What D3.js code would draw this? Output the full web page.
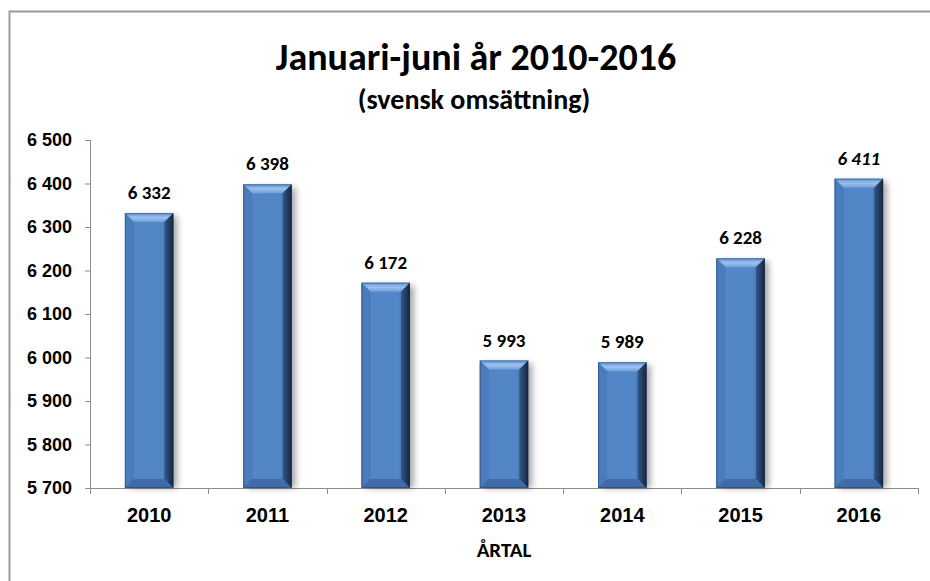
<!DOCTYPE html>
<html>
<head>
<meta charset="utf-8">
<script src="https://cdn.jsdelivr.net/npm/d3@7"></script>
<style>
  body { margin: 0; background: #fff; }
  svg { display: block; font-family: Carlito, Calibri, Lato, "Open Sans", sans-serif; }
  .axis path, .axis line { stroke: #8c8c8c; }
  .axis text { font-weight: bold; fill: #000; }
  .y.axis text { font-size: 18px; }
  .x.axis text { font-size: 20px; }
</style>
</head>
<body>
<script>
var years = ["2010", "2011", "2012", "2013", "2014", "2015", "2016"];
var values = [6332, 6398, 6172, 5993, 5989, 6228, 6411];
var italicYears = ["2016"];
var yTicks = [5700, 5800, 5900, 6000, 6100, 6200, 6300, 6400, 6500];

var W = 930, H = 581;
var margin = { top: 140, bottom: 93, left: 90, right: 12 };
var width = W - margin.left - margin.right;
var height = H - margin.top - margin.bottom;

var svg = d3.select("body").append("svg")
    .attr("width", W)
    .attr("height", H);

var defs = svg.append("defs");

var body = defs.append("linearGradient").attr("id", "barBody")
    .attr("x1", "0").attr("x2", "1").attr("y1", "0").attr("y2", "0");
body.append("stop").attr("offset", "0").attr("stop-color", "#4474b1");
body.append("stop").attr("offset", "0.2").attr("stop-color", "#5486c7");
body.append("stop").attr("offset", "0.75").attr("stop-color", "#5386c7");
body.append("stop").attr("offset", "1").attr("stop-color", "#3d6aa5");

var topBev = defs.append("linearGradient").attr("id", "topBev")
    .attr("x1", "0").attr("x2", "0").attr("y1", "0").attr("y2", "1");
topBev.append("stop").attr("offset", "0").attr("stop-color", "#6292cf");
topBev.append("stop").attr("offset", "0.5").attr("stop-color", "#9cc0ec");
topBev.append("stop").attr("offset", "1").attr("stop-color", "#6f9fda");

var rightBev = defs.append("linearGradient").attr("id", "rightBev")
    .attr("x1", "0").attr("x2", "1").attr("y1", "0").attr("y2", "0");
rightBev.append("stop").attr("offset", "0").attr("stop-color", "#33578a");
rightBev.append("stop").attr("offset", "1").attr("stop-color", "#15263d");

var shadow = defs.append("filter").attr("id", "shadow")
    .attr("x", "-50%").attr("y", "-10%").attr("width", "200%").attr("height", "120%");
shadow.append("feGaussianBlur").attr("stdDeviation", 3);

// chart border
svg.append("rect")
    .attr("x", 9.5).attr("y", 11.5)
    .attr("width", W).attr("height", H)
    .attr("fill", "none")
    .attr("stroke", "#9a9a9a")
    .attr("stroke-width", 2);

svg.append("text")
    .attr("x", 476).attr("y", 70)
    .attr("text-anchor", "middle")
    .style("font-size", "38px").style("font-weight", "bold")
    .text("Januari-juni år 2010-2016");

svg.append("text")
    .attr("x", 474).attr("y", 109)
    .attr("text-anchor", "middle")
    .style("font-size", "28px").style("font-weight", "bold")
    .text("(svensk omsättning)");

var g = svg.append("g")
    .attr("transform", "translate(" + margin.left + "," + margin.top + ")");

var x = d3.scaleBand()
    .domain(years)
    .range([0, width])
    .paddingInner(0.59)
    .paddingOuter(0.295);

var y = d3.scaleLinear()
    .domain([5700, 6500])
    .range([height, 0]);

var fmt = d3.formatLocale({ decimal: ",", thousands: " ", grouping: [3], currency: ["", " kr"] }).format(",d");

var yAxis = d3.axisLeft(y)
    .tickValues(yTicks)
    .tickFormat(fmt)
    .tickSize(5)
    .tickPadding(13);

g.append("g")
    .attr("class", "y axis")
    .call(yAxis)
    .select(".domain").attr("d", "M0.5," + height + "V0");

// x axis: labels only, boundary ticks drawn separately
var xAxis = d3.axisBottom(x).tickSize(0).tickPadding(20);
var xg = g.append("g")
    .attr("class", "x axis")
    .attr("transform", "translate(0," + height + ")")
    .call(xAxis);
xg.select(".domain").attr("d", "M0," + 0.5 + "H" + width);

var bounds = years.map(function (d) { return x(d) - x.step() * x.paddingInner() / 2; });
bounds[0] = 0;
bounds.push(width);
xg.selectAll(".bound")
    .data(bounds)
    .enter()
    .append("line")
    .attr("class", "bound")
    .attr("x1", function (d) { return Math.round(d) + 0.5; })
    .attr("x2", function (d) { return Math.round(d) + 0.5; })
    .attr("y1", 0)
    .attr("y2", 6)
    .attr("stroke", "#8c8c8c");

g.append("text")
    .attr("x", width / 2)
    .attr("y", height + 69)
    .attr("text-anchor", "middle")
    .style("font-size", "21px").style("font-weight", "bold")
    .text("ÅRTAL");

var bw = x.bandwidth();
var bev = 9;

var bars = g.selectAll("g.bar")
    .data(years)
    .enter()
    .append("g")
    .attr("class", "bar");

bars.append("rect")
    .attr("x", function (d) { return x(d) + 4; })
    .attr("y", function (d, i) { return y(values[i]) + 3; })
    .attr("width", bw)
    .attr("height", function (d, i) { return height - y(values[i]) - 3; })
    .attr("fill", "rgba(0,0,0,0.35)")
    .attr("filter", "url(#shadow)");

bars.append("rect")
    .attr("x", function (d) { return x(d); })
    .attr("y", function (d, i) { return y(values[i]); })
    .attr("width", bw)
    .attr("height", function (d, i) { return height - y(values[i]); })
    .attr("fill", "url(#barBody)");

// top bevel
bars.append("path")
    .attr("fill", "url(#topBev)")
    .attr("d", function (d, i) {
        var x0 = x(d), y0 = y(values[i]);
        return "M" + x0 + "," + y0 + "H" + (x0 + bw) + "L" + (x0 + bw - bev) + "," + (y0 + bev) + "H" + (x0 + bev) + "Z";
    });

// right bevel
bars.append("path")
    .attr("fill", "url(#rightBev)")
    .attr("d", function (d, i) {
        var x0 = x(d), y0 = y(values[i]);
        return "M" + (x0 + bw) + "," + y0 + "V" + height + "L" + (x0 + bw - bev) + "," + (height - bev) + "V" + (y0 + bev) + "Z";
    });

// left bevel
bars.append("path")
    .attr("fill", "#4a7bbb")
    .attr("d", function (d, i) {
        var x0 = x(d), y0 = y(values[i]);
        return "M" + x0 + "," + y0 + "V" + height + "L" + (x0 + bev) + "," + (height - bev) + "V" + (y0 + bev) + "Z";
    });

// bottom bevel
bars.append("path")
    .attr("fill", "#3f6ca8")
    .attr("d", function (d, i) {
        var x0 = x(d);
        return "M" + x0 + "," + height + "H" + (x0 + bw) + "L" + (x0 + bw - bev) + "," + (height - bev) + "H" + (x0 + bev) + "Z";
    });

bars.append("rect")
    .attr("x", function (d) { return x(d) + 0.5; })
    .attr("y", function (d, i) { return y(values[i]) + 0.5; })
    .attr("width", bw - 1)
    .attr("height", function (d, i) { return height - y(values[i]) - 1; })
    .attr("fill", "none")
    .attr("stroke", "rgba(20,40,70,0.35)")
    .attr("stroke-width", 1);

bars.append("text")
    .attr("x", function (d) { return x(d) + bw / 2; })
    .attr("y", function (d, i) { return y(values[i]) - 14; })
    .attr("text-anchor", "middle")
    .style("font-size", "19px").style("font-weight", "bold")
    .style("font-style", function (d) { return italicYears.indexOf(d) >= 0 ? "italic" : "normal"; })
    .text(function (d, i) { return fmt(values[i]); });
</script>
</body>
</html>
